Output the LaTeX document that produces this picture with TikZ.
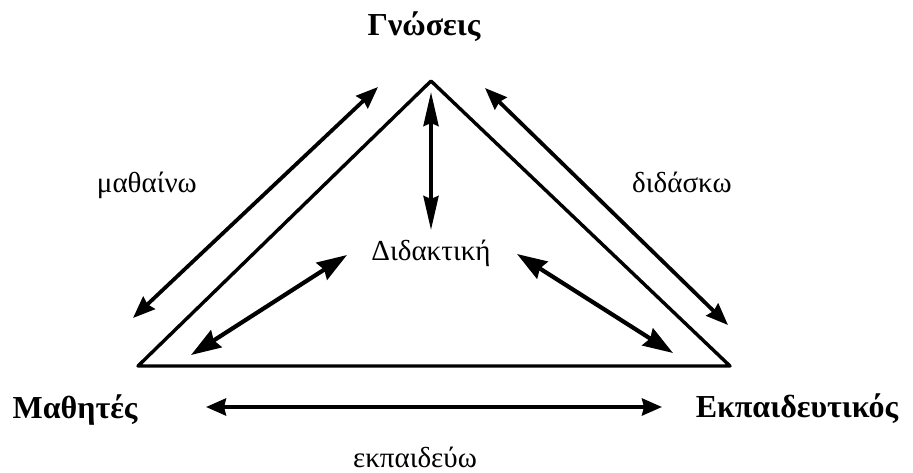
\documentclass[tikz,border=0pt]{standalone}
\usepackage{fontspec}
\setmainfont{Liberation Serif}
\usetikzlibrary{arrows.meta}
\begin{document}
\begin{tikzpicture}[x=1pt,y=-1pt,
  lbl/.style={font=\fontsize{29}{33}\selectfont, inner sep=0pt, anchor=base},
  blbl/.style={font=\fontsize{32}{36}\selectfont\bfseries, inner sep=0pt, anchor=base},
  side/.style={line width=3.4pt, line join=round, line cap=round},
  oarr/.style={line width=3.8pt, {Stealth[length=22pt,width=17pt,inset=2pt]}-{Stealth[length=22pt,width=17pt,inset=2pt]}},
  iarr/.style={line width=4.2pt, {Stealth[length=30pt,width=20pt,inset=3pt]}-{Stealth[length=30pt,width=20pt,inset=3pt]}},
  varr/.style={line width=3.8pt, {Stealth[length=34pt,width=15pt,inset=3pt]}-{Stealth[length=34pt,width=15pt,inset=3pt]}},
  barr/.style={line width=3.8pt, {Stealth[length=20pt,width=17pt,inset=2pt]}-{Stealth[length=20pt,width=17pt,inset=2pt]}}]
\useasboundingbox (0,0) rectangle (913,472);
% labels
\node[blbl] (gn) at (424,35) {Γνώσεις};
\node[blbl] (ma) at (75,418) {Μαθητές};
\node[blbl] (ek) at (797,417) {Εκπαιδευτικός};
\node[lbl, anchor=base east] (mt) at (197,192) {μαθαίνω};
\node[lbl, anchor=base west] (dd) at (632,192) {διδάσκω};
\node[lbl] (di) at (431,260) {Διδακτική};
\node[lbl] (ep) at (415,467) {εκπαιδεύω};
% triangle
\coordinate (A) at (431,81);
\coordinate (B) at (138,366);
\coordinate (C) at (730,366);
\draw[side] (A) -- (B) -- (C) -- cycle;
% arrow ends
\coordinate (lo1) at (378,87);
\coordinate (lo2) at (133,318);
\coordinate (ro1) at (485,88);
\coordinate (ro2) at (728,325);
\coordinate (v1) at (431,92);
\coordinate (v2) at (431,230);
\coordinate (il1) at (347,255);
\coordinate (il2) at (191,355);
\coordinate (ir1) at (517,254);
\coordinate (ir2) at (673,353);
\coordinate (b1) at (206,407);
\coordinate (b2) at (662,407);
\draw[oarr] (lo1) -- (lo2);
\draw[oarr] (ro1) -- (ro2);
\draw[varr] (v1) -- (v2);
\draw[iarr] (il1) -- (il2);
\draw[iarr] (ir1) -- (ir2);
\draw[barr] (b1) -- (b2);
\end{tikzpicture}
\end{document}
